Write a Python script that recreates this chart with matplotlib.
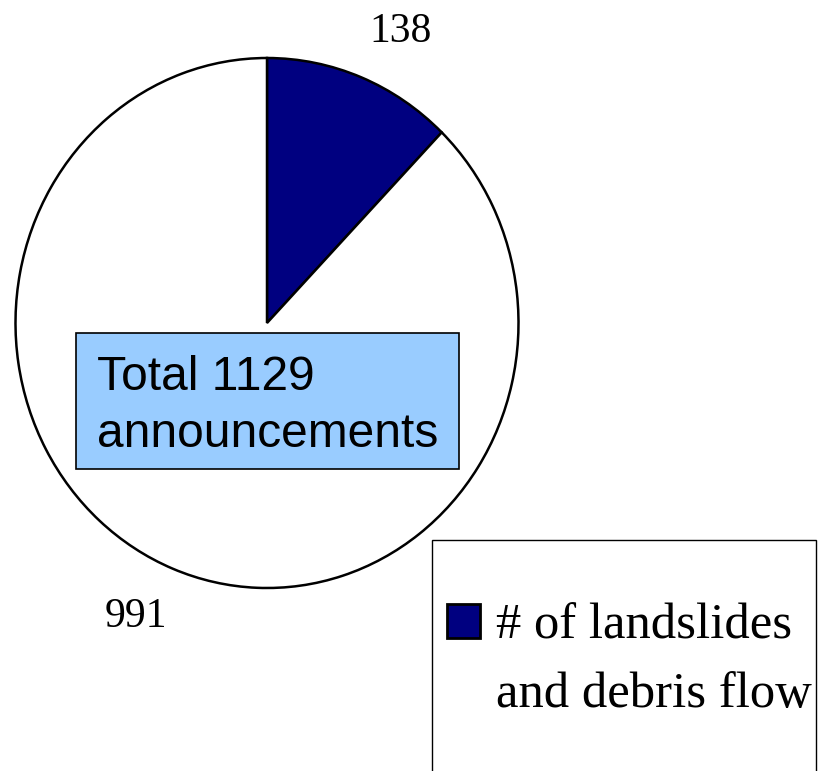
import matplotlib.pyplot as plt
from matplotlib.patches import Rectangle, Patch

W, H = 821, 771

categories = ['# of landslides\nand debris flow', 'other']
counts = [138, 991]
total_note = 'Total 1129\nannouncements'
colors = ['#000080', 'white']


def fx(x):
    return x / W


def fy(y):
    return 1 - y / H


fig = plt.figure(figsize=(W / 100, H / 100), dpi=100)

# pie is drawn a bit taller than wide, like the original
cx, cy, rx, ry = 267, 323, 251.5, 265
ax = fig.add_axes([fx(cx - rx), fy(cy + ry), 2 * rx / W, 2 * ry / H])
wedges, texts = ax.pie(
    counts, labels=[str(c) for c in counts], colors=colors,
    startangle=90, counterclock=False, labeldistance=1.22,
    wedgeprops=dict(edgecolor='black', linewidth=1.8),
    textprops=dict(family='Liberation Serif', size=30,
                   ha='center', va='center'))
# value labels sit a little off the default spot
texts[0].set_position((0.53, 1.10))
texts[1].set_position((-0.52, -1.11))
ax.set_aspect('auto')
ax.set_xlim(-1, 1)
ax.set_ylim(-1, 1)
ax.axis('off')

# note box in the middle of the pie
fig.patches.append(Rectangle((fx(76), fy(469)), (459 - 76) / W, (469 - 333) / H,
                             transform=fig.transFigure, facecolor='#99CCFF',
                             edgecolor='black', linewidth=1.2, zorder=3))
fig.text(fx(97), fy(406), total_note, family='Liberation Sans', size=34.5,
         ha='left', va='center', linespacing=1.34, zorder=4)

# legend frame runs past the right and bottom edges
fig.patches.append(Rectangle((fx(432), fy(800)), (816 - 432) / W, (800 - 540) / H,
                             transform=fig.transFigure, facecolor='white',
                             edgecolor='black', linewidth=1.0, zorder=1))
first, second = categories[0].split('\n')
handles = [wedges[0], Patch(facecolor='none', edgecolor='none')]
leg = fig.legend(handles, [first, second], loc='upper left',
                 bbox_to_anchor=(fx(447), fy(603)), frameon=False,
                 prop=dict(family='Liberation Serif', size=36.5),
                 handlelength=0.65, handleheight=0.65, handletextpad=0.32,
                 labelspacing=0.44, borderpad=0, borderaxespad=0)
leg.legend_handles[0].set_linewidth(2.0)

fig.savefig('out.png', dpi=100)
